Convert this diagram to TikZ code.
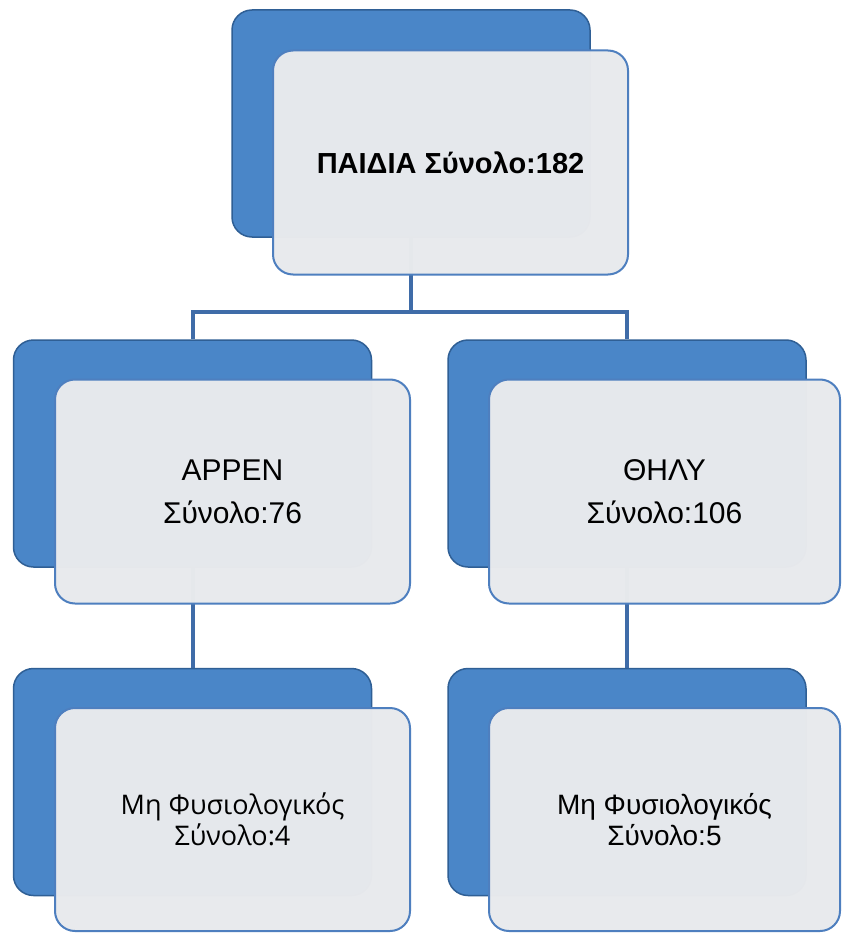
\documentclass[tikz,border=0pt]{standalone}
\usepackage{fontspec}
\setmainfont{Liberation Sans}
\newfontfamily\segoelike{Open Sans}
\definecolor{backblue}{HTML}{4A86C8}
\definecolor{backedge}{HTML}{2F5F95}
\definecolor{frontfill}{HTML}{E8EAED}
\definecolor{frontedge}{HTML}{4E7FBF}
\definecolor{linkblue}{HTML}{3F6CA8}
\begin{document}
\begin{tikzpicture}[x=1pt,y=-1pt,
  backbox/.style={draw=backedge, line width=1.5pt, fill=backblue, rounded corners=20pt,
    minimum width=358pt, minimum height=227pt, inner sep=0pt},
  frontbox/.style={draw=frontedge, line width=2pt, fill=frontfill, fill opacity=0.985,
    text opacity=1, rounded corners=20pt, minimum height=224pt, inner sep=0pt,
    align=center, font=\fontsize{30pt}{43pt}\selectfont},
  link/.style={draw=linkblue, line width=4pt}]
\useasboundingbox (0,0) rectangle (841,933);
\fill[white] (0,0) rectangle (841,933);
% back boxes
\node[backbox] (b0) at (411,123.5) {};
\node[backbox] (b1) at (192.5,453.5) {};
\node[backbox] (b2) at (627,453.5) {};
\node[backbox] (b3) at (192.5,782) {};
\node[backbox] (b4) at (627,782) {};
% connectors
\coordinate (bar) at (411,312);
\draw[link] (b0.south) -- (bar);
\draw[link] (bar) -| (b1.north);
\draw[link] (bar) -| (b2.north);
\draw[link] (b1.south) -- (b3.north);
\draw[link] (b2.south) -- (b4.north);
% front boxes
\node[frontbox, minimum width=355pt, font=\bfseries\fontsize{29pt}{32pt}\selectfont] (f0) at (450.5,162.5) {ΠΑΙΔΙΑ Σύνολο:182};
\node[frontbox, minimum width=355pt] (f1) at (232.5,491.5) {ΑΡΡΕΝ\\Σύνολο:76};
\node[frontbox, minimum width=351pt] (f2) at (664.5,491.5) {ΘΗΛΥ\\Σύνολο:106};
\node[frontbox, minimum width=355pt, minimum height=223pt, font=\segoelike\fontsize{27pt}{31pt}\selectfont] (f3) at (232.5,819.5) {Μη Φυσιολογικός\\Σύνολο:4};
\node[frontbox, minimum width=351pt, minimum height=223pt, font=\fontsize{28pt}{31pt}\selectfont] (f4) at (664.5,819.5) {Μη Φυσιολογικός\\Σύνολο:5};
\end{tikzpicture}
\end{document}
